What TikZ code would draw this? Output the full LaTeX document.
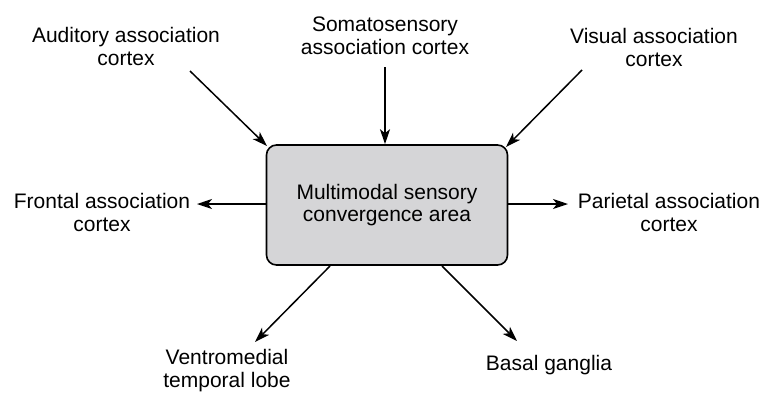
\documentclass[tikz,border=0pt]{standalone}
\usepackage{fontspec}
\setmainfont{Liberation Sans}
\usetikzlibrary{arrows.meta}
\definecolor{boxgray}{RGB}{213,213,215}
\begin{document}
\begin{tikzpicture}[x=1pt,y=-1pt,
  lbl/.style={align=center,inner sep=0pt,anchor=base,
    font=\fontsize{21}{22.5}\selectfont},
  hub/.style={draw=black,line width=1.6pt,fill=boxgray,rounded corners=10pt,
    minimum width=241pt,minimum height=120pt,inner sep=0pt,align=center,
    font=\fontsize{21}{22.5}\selectfont},
  link/.style={line width=1.5pt,-{Stealth[length=15pt,width=10pt,inset=4pt]}}]
\useasboundingbox (0,0) rectangle (762,392);

% central convergence area
\node[hub] (hub) at (387,205) {Multimodal sensory\\convergence area};

% surrounding cortical regions (base = baseline of the last line)
\node[lbl] (aud)  at (126,65)  {Auditory association\\cortex};
\node[lbl] (som)  at (385,54)  {Somatosensory\\association cortex};
\node[lbl] (vis)  at (654,66)  {Visual association\\cortex};
\node[lbl] (fro)  at (102,231) {Frontal association\\cortex};
\node[lbl] (par)  at (669,231) {Parietal association\\cortex};
\node[lbl] (vtl)  at (227,387) {Ventromedial\\temporal lobe};
\node[lbl] (bas)  at (549,370) {Basal ganglia};

% arrow end points
\coordinate (audS) at (190,71);
\coordinate (audE) at (267,146);
\coordinate (somS) at (385,67);
\coordinate (visS) at (582,70);
\coordinate (visE) at (506,147);
\coordinate (froE) at (197,204);
\coordinate (parE) at (568,204);
\coordinate (vtlS) at (330,266);
\coordinate (vtlE) at (255,342);
\coordinate (basS) at (442,266);
\coordinate (basE) at (517,341);

% inputs
\draw[link] (audS) -- (audE);
\draw[link] (somS) -- (somS |- hub.north);
\draw[link] (visS) -- (visE);
% outputs
\draw[link] (hub.west |- froE) -- (froE);
\draw[link] (hub.east |- parE) -- (parE);
\draw[link] (vtlS) -- (vtlE);
\draw[link] (basS) -- (basE);
\end{tikzpicture}
\end{document}
